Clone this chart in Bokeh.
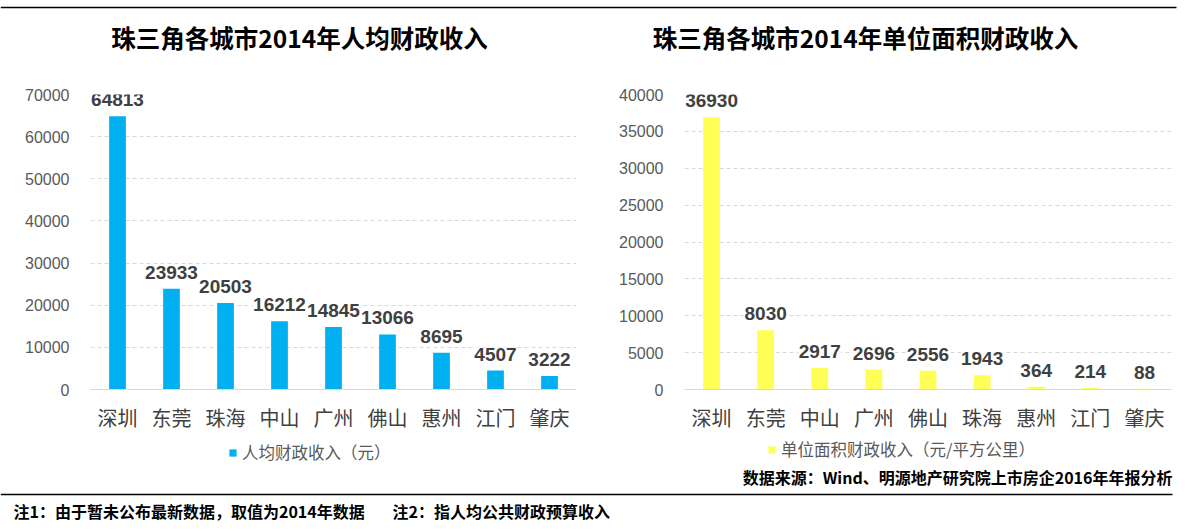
from bokeh.plotting import figure
from bokeh.models import (ColumnDataSource, FactorRange, Range1d, LabelSet, Legend,
                          LegendItem, FixedTicker, NumeralTickFormatter)
from bokeh.layouts import column, row
from bokeh.embed import file_html
from bokeh.resources import INLINE
from bokeh.core.properties import value

# ---------------- data ----------------
title_pc = "珠三角各城市2014年人均财政收入"
cities_pc = ["深圳", "东莞", "珠海", "中山", "广州", "佛山", "惠州", "江门", "肇庆"]
income_pc = [64813, 23933, 20503, 16212, 14845, 13066, 8695, 4507, 3222]
legend_pc = "人均财政收入（元）"
ticks_pc = [0, 10000, 20000, 30000, 40000, 50000, 60000, 70000]

title_area = "珠三角各城市2014年单位面积财政收入"
cities_area = ["深圳", "东莞", "中山", "广州", "佛山", "珠海", "惠州", "江门", "肇庆"]
income_area = [36930, 8030, 2917, 2696, 2556, 1943, 364, 214, 88]
legend_area = "单位面积财政收入（元/平方公里）"
ticks_area = [0, 5000, 10000, 15000, 20000, 25000, 30000, 35000, 40000]

source_note = "数据来源：Wind、明源地产研究院上市房企2016年年报分析"
note1 = "注1：由于暂未公布最新数据，取值为2014年数据"
note2 = "注2：指人均公共财政预算收入"

CJK = "Noto Sans CJK SC"
NUM = "Liberation Sans"
BLUE = "#00B0F0"
YELLOW = "#FFFF55"


def blank(width, height, xr, yr):
    f = figure(width=width, height=height, x_range=xr, y_range=yr,
               output_backend="svg", toolbar_location=None, min_border=0)
    f.axis.visible = False
    f.grid.visible = False
    f.outline_line_color = None
    return f


# ---------------- header (titles + top rule) ----------------
header = blank(1179, 71, Range1d(0, 1179), Range1d(71, 0))
header.segment(x0=[0], y0=[7], x1=[1176], y1=[7], line_color="black", line_width=1.5)
header.text(x=[299, 865], y=[37, 37], text=[title_pc, title_area],
            text_font=value(CJK), text_font_style="bold", text_font_size="24.5px",
            text_align="center", text_baseline="middle", text_color="#000000")


def make_chart(cities, vals, ticks, ymax, color, width, mbl, mbr):
    p = figure(width=width, height=363, x_range=FactorRange(*cities, range_padding=0),
               y_range=Range1d(0, ymax), output_backend="svg", toolbar_location=None,
               min_border_left=mbl, min_border_right=mbr, min_border_top=23,
               min_border_bottom=44)
    p.outline_line_color = None
    src = ColumnDataSource(dict(x=cities, top=vals, lab=[str(v) for v in vals]))
    p.vbar(x="x", top="top", width=0.31, source=src, fill_color=color, line_color=None)

    p.xgrid.grid_line_color = None
    p.ygrid.grid_line_color = "#D9D9D9"
    p.ygrid.grid_line_dash = "4 3"
    p.ygrid.ticker = FixedTicker(ticks=ticks[1:])

    p.yaxis.ticker = FixedTicker(ticks=ticks)
    p.yaxis.formatter = NumeralTickFormatter(format="0")
    p.yaxis.axis_line_color = None
    p.yaxis.major_tick_line_color = None
    p.yaxis.minor_tick_line_color = None
    p.yaxis.major_tick_out = 0
    p.yaxis.minor_tick_out = 0
    p.yaxis.major_label_standoff = 21
    p.yaxis.major_label_text_font = NUM
    p.yaxis.major_label_text_font_size = "16px"
    p.yaxis.major_label_text_color = "#595959"

    p.xaxis.axis_line_color = "#D9D9D9"
    p.xaxis.axis_line_width = 1.2
    p.xaxis.major_tick_line_color = None
    p.xaxis.minor_tick_line_color = None
    p.xaxis.major_tick_out = 0
    p.xaxis.minor_tick_out = 0
    p.xaxis.major_label_standoff = 13
    p.xaxis.major_label_text_font = CJK
    p.xaxis.major_label_text_font_size = "20px"
    p.xaxis.major_label_text_color = "#404040"

    labels = LabelSet(x="x", y="top", text="lab", source=src, y_offset=10,
                      text_align="center", text_baseline="alphabetic",
                      text_font=value(NUM), text_font_style="bold", text_font_size="19px",
                      text_color="#404040", background_fill_color="white")
    p.add_layout(labels)
    return p


left = make_chart(cities_pc, income_pc, ticks_pc, 70000, BLUE, 600, 90, 24)
right = make_chart(cities_area, income_area, ticks_area, 40000, YELLOW, 579, 84, 8)

# ---------------- legend + source strip (page y 434..488) ----------------
strip = blank(1179, 54, Range1d(0, 1179), Range1d(488, 434))
r_pc = strip.vbar(x=[-100], top=[1], width=1, fill_color=BLUE, line_color=None)
r_area = strip.vbar(x=[-100], top=[1], width=1, fill_color=YELLOW, line_color=None)


def make_legend(label, rend, loc):
    return Legend(items=[LegendItem(label=label, renderers=[rend])],
                  location=loc, orientation="horizontal",
                  glyph_width=9, glyph_height=9, label_standoff=5,
                  label_text_font=CJK, label_text_font_size="16.5px",
                  label_text_color="#595959", border_line_color=None,
                  background_fill_alpha=0, padding=0, margin=0, label_height=16)


strip.add_layout(make_legend(legend_pc, r_pc, (228, 24)), "center")
strip.add_layout(make_legend(legend_area, r_area, (767, 27)), "center")
strip.text(x=[1172], y=[476], text=[source_note], text_font=value(CJK),
           text_font_style="bold", text_font_size="16px", text_align="right",
           text_baseline="middle", text_color="#000000")

# ---------------- footer (page y 488..523) ----------------
footer = blank(1179, 35, Range1d(0, 1179), Range1d(523, 488))
footer.segment(x0=[0], y0=[494], x1=[1172], y1=[494], line_color="black", line_width=1.5)
footer.text(x=[13, 392], y=[510, 510], text=[note1, note2], text_font=value(CJK),
            text_font_style="bold", text_font_size="16px", text_align="left",
            text_baseline="middle", text_color="#000000")

layout = column(header, row(left, right, spacing=0), strip, footer, spacing=0)
open("out.html", "w").write(file_html(layout, INLINE))
